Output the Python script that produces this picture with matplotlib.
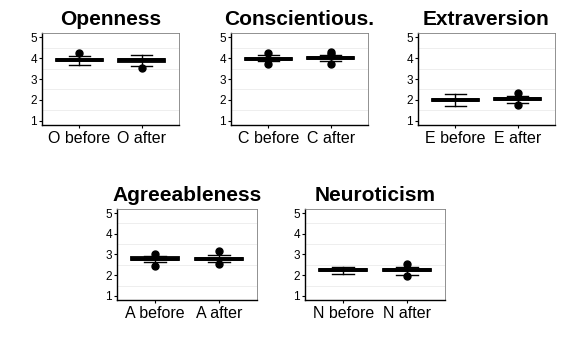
import matplotlib
matplotlib.use("Agg")
import matplotlib.pyplot as plt

plt.rcParams['font.family'] = ['Liberation Sans', 'DejaVu Sans']

titles = ["Openness", "Conscientious.", "Extraversion", "Agreeableness", "Neuroticism"]
letters = ["O", "C", "E", "A", "N"]

# summary stats per trait: [before, after]
medians = [[3.90, 3.89], [3.97, 4.02], [2.00, 2.03], [2.79, 2.79], [2.24, 2.25]]
q1s = [[3.84, 3.83], [3.93, 3.97], [1.95, 1.99], [2.73, 2.74], [2.19, 2.21]]
q3s = [[3.96, 3.94], [4.01, 4.05], [2.06, 2.07], [2.86, 2.84], [2.29, 2.29]]
whislo = [[3.68, 3.61], [3.84, 3.84], [1.71, 1.84], [2.62, 2.62], [2.04, 2.03]]
whishi = [[4.08, 4.16], [4.13, 4.16], [2.27, 2.21], [2.92, 2.98], [2.39, 2.39]]
fliers = [[[4.25], [3.53]],
          [[4.24, 3.73], [4.30, 4.20, 3.73]],
          [[], [2.32, 1.74]],
          [[3.04, 2.46], [3.17, 2.54]],
          [[], [2.52, 1.94]]]

W, H = 565, 349
# panel boxes in pixels: left, top, width, height
panels = [(42, 33, 137, 92), (231, 33, 137, 92), (418, 33, 137, 92),
          (117, 209, 140, 91), (305, 209, 140, 91)]

fig = plt.figure(figsize=(W / 100, H / 100), dpi=100)

for i, (l, t, w, h) in enumerate(panels):
    ax = fig.add_axes([l / W, 1 - (t + h) / H, w / W, h / H])
    stats = []
    for j in range(2):
        stats.append(dict(med=medians[i][j], q1=q1s[i][j], q3=q3s[i][j],
                          whislo=whislo[i][j], whishi=whishi[i][j],
                          fliers=fliers[i][j]))
    ax.bxp(stats, positions=[1, 2], widths=0.76, capwidths=0.34,
           patch_artist=True, showfliers=True,
           boxprops=dict(facecolor='white', edgecolor='black', linewidth=1.3),
           medianprops=dict(color='black', linewidth=2.6),
           whiskerprops=dict(color='black', linewidth=1.0),
           capprops=dict(color='black', linewidth=1.0),
           flierprops=dict(marker='o', markerfacecolor='black',
                           markeredgecolor='black', markersize=5))
    ax.set_xlim(0.4, 2.6)
    ax.set_ylim(0.8, 5.2)
    ax.set_yticks([1, 2, 3, 4, 5])
    ax.set_xticks([1, 2])
    ax.set_xticklabels([letters[i] + " before", letters[i] + " after"], fontsize=11.5)
    ax.tick_params(axis='y', labelsize=8.5, length=2.5, width=0.8, pad=1, colors='black')
    ax.tick_params(axis='x', length=2.5, width=0.8, pad=2, colors='black')
    for y in [1.5, 2.5, 3.5, 4.5]:
        ax.axhline(y, color='#ebebeb', linewidth=0.6, zorder=0)
    for s in ['top', 'right']:
        ax.spines[s].set_color('#7f7f7f')
        ax.spines[s].set_linewidth(0.6)
    for s in ['left', 'bottom']:
        ax.spines[s].set_color('black')
        ax.spines[s].set_linewidth(1.0)
    ax.set_title(titles[i], fontsize=15, fontweight='bold', pad=6)

fig.savefig("out.png", dpi=100)
